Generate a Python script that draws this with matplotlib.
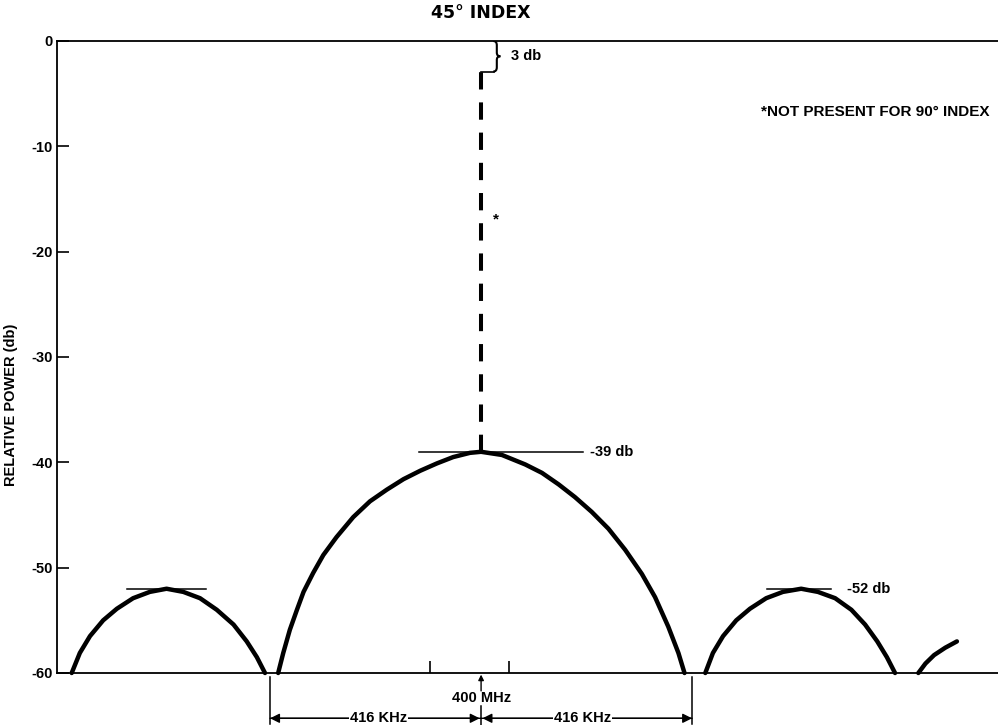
import matplotlib
matplotlib.use("Agg")
from matplotlib import pyplot as plt
from matplotlib.path import Path
from matplotlib.patches import PathPatch

plt.rcParams['font.family'] = ['Liberation Sans', 'DejaVu Sans']
plt.rcParams['font.weight'] = 'bold'
plt.rcParams['axes.labelweight'] = 'bold'

# frequency offset from 400 MHz (KHz) and relative power (db)
main_khz = [-400, -390, -377, -363, -350, -331, -311, -285, -252, -219, -186, -153, -120, -87, -55, -22,
            0, 41, 87, 120, 153, 185, 218, 251, 284, 317, 343, 369, 389, 401]
main_db = [-60.0, -58.1, -55.9, -54.0, -52.3, -50.5, -48.8, -47.1, -45.2, -43.7, -42.6, -41.6, -40.8, -40.1, -39.5, -39.1,
           -39.0, -39.3, -40.2, -41.0, -42.1, -43.3, -44.7, -46.3, -48.3, -50.6, -52.8, -55.6, -58.1, -60.0]

left_khz = [-807, -791, -771, -745, -718, -686, -653, -620, -587, -554, -521, -488, -462, -442, -426]
left_db = [-60.0, -58.1, -56.5, -55.0, -53.9, -52.9, -52.3, -52.0, -52.3, -52.9, -54.0, -55.4, -57.0, -58.5, -60.0]

right_khz = [442, 457, 477, 503, 530, 562, 595, 631, 664, 698, 730, 757, 781, 800, 816]
right_db = [-60.0, -58.1, -56.5, -55.0, -53.9, -52.9, -52.3, -52.0, -52.3, -52.9, -54.0, -55.4, -57.0, -58.5, -60.0]

tail_khz = [862, 876, 893, 915, 938]
tail_db = [-60.0, -59.1, -58.3, -57.6, -57.0]

carrier_khz = 0
carrier_top = -2.9
carrier_bottom = -39.0
main_peak = -39
side_peak = -52
null_khz = 416

y_ticks = [0, -10, -20, -30, -40, -50, -60]
x_ticks = [-100, 55]

fig = plt.figure(figsize=(9.98, 7.25), dpi=100)
ax = fig.add_axes([57 / 998, 1 - 673 / 725, 941 / 998, 632 / 725])
ax.set_xlim(-836, 1019)
ax.set_ylim(-60, 0)

for s in ['left', 'top', 'bottom']:
    ax.spines[s].set_linewidth(1.3)
ax.spines['right'].set_visible(False)

ax.set_yticks(y_ticks)
ax.set_yticklabels([str(v) for v in y_ticks], fontsize=10.5)
ax.set_xticks(x_ticks)
ax.set_xticklabels([])
ax.tick_params(axis='y', direction='in', length=8.5, width=1.2, pad=3)
ax.tick_params(axis='x', direction='in', length=8.5, width=1.2)
ax.set_ylabel('RELATIVE POWER (db)', fontsize=10.5, fontweight='bold')
ax.yaxis.set_label_coords(-0.041, 0.424)

# spectrum lobes
for xs, ys in [(left_khz, left_db), (main_khz, main_db), (right_khz, right_db), (tail_khz, tail_db)]:
    ax.plot(xs, ys, color='black', lw=3.2, solid_joinstyle='round', solid_capstyle='round', clip_on=False)

# carrier (dashed)
ax.plot([carrier_khz, carrier_khz], [carrier_bottom, carrier_top], color='black', lw=2.9,
        dashes=(4.3, 3.2), dash_capstyle='butt')
ax.plot([carrier_khz, 26], [carrier_top, carrier_top], color='black', lw=1.2)

# brace for 3 db
x0, xm, xt = 24, 31, 38
verts = [(x0, 0), (xm, 0), (xm, -0.4), (xm, -1.1), (xm, -1.45), (xt, -1.45),
         (xm, -1.45), (xm, -1.8), (xm, -2.5), (xm, carrier_top), (x0, carrier_top)]
codes = [Path.MOVETO, Path.CURVE3, Path.CURVE3, Path.LINETO, Path.CURVE3, Path.CURVE3,
         Path.CURVE3, Path.CURVE3, Path.LINETO, Path.CURVE3, Path.CURVE3]
ax.add_patch(PathPatch(Path(verts, codes), fill=False, lw=1.5, color='black'))
ax.text(59, -1.4, '3 db', fontsize=10.5, va='center', ha='left')
ax.text(30, -16.9, '*', fontsize=11, va='center', ha='center')

# reference levels
ax.plot([-122, 201], [main_peak, main_peak], color='black', lw=1.1)
ax.text(215, main_peak, '-39 db', fontsize=10.5, va='center', ha='left')
ax.plot([-698, -542], [side_peak, side_peak], color='black', lw=1.1)
ax.plot([564, 690], [side_peak, side_peak], color='black', lw=1.1)
ax.text(722, side_peak, '-52 db', fontsize=10.5, va='center', ha='left')

ax.text(1003, -6.75, '*NOT PRESENT FOR 90° INDEX', fontsize=11, va='center', ha='right')

ax.text(0, 1.0 + 28 / 632, '45° INDEX', transform=ax.get_xaxis_transform(), fontsize=12.5,
        fontweight='bold', family='DejaVu Sans', ha='center', va='center')

# bottom frequency annotations
ya = -64.3
for xv in [-null_khz, null_khz]:
    ax.plot([xv, xv], [-60.4, -64.8], color='black', lw=1.1, clip_on=False)
ax.plot([0, 0], [-63.1, -65.2], color='black', lw=1.1, clip_on=False)
for xa in [-null_khz, null_khz]:
    ax.annotate('', xy=(xa, ya), xytext=(0, ya), annotation_clip=False,
                arrowprops=dict(arrowstyle='-|>', color='black', lw=1.0,
                                mutation_scale=14, shrinkA=0, shrinkB=0))
    ax.annotate('', xy=(0, ya), xytext=(xa, ya), annotation_clip=False,
                arrowprops=dict(arrowstyle='-|>', color='black', lw=1.0,
                                mutation_scale=14, shrinkA=0, shrinkB=1))
    ax.text(xa / 2 + (6 if xa < 0 else -8), ya, '416 KHz', fontsize=10.5, ha='center', va='center',
            bbox=dict(boxstyle='square,pad=0.05', fc='white', ec='none'), clip_on=False, zorder=5)
ax.text(0, -62.4, '400 MHz', fontsize=10.5, ha='center', va='center', clip_on=False)
ax.annotate('', xy=(0, -60.15), xytext=(0, -61.7), annotation_clip=False,
            arrowprops=dict(arrowstyle='-|>', color='black', lw=1.0, mutation_scale=8,
                            shrinkA=0, shrinkB=0))

fig.savefig('out.png', dpi=100)
